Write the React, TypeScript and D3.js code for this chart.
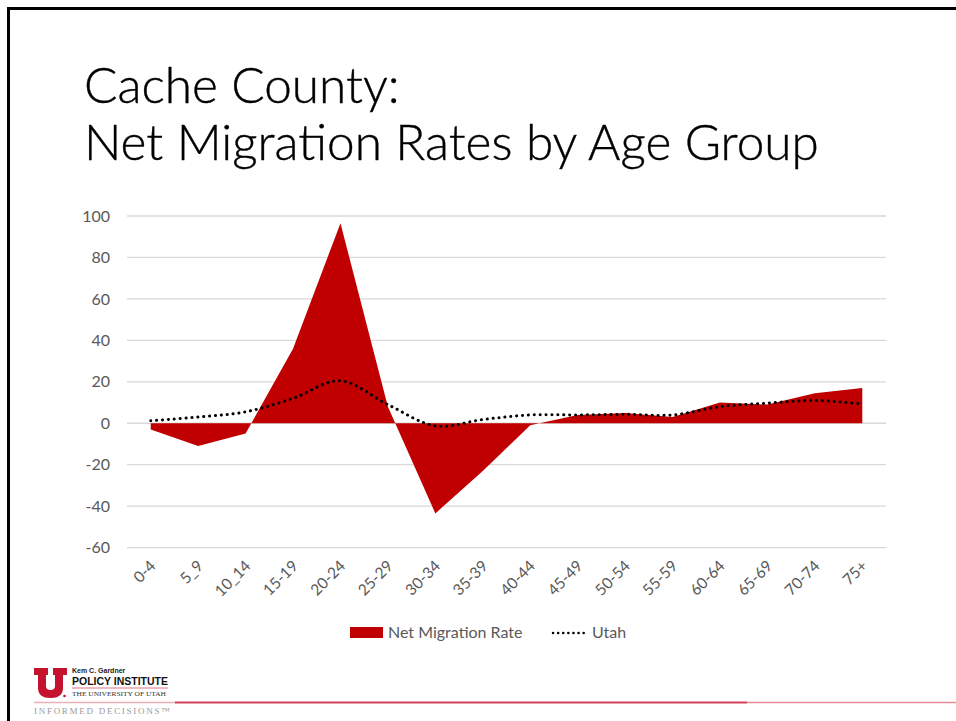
import React from "react";
import * as d3 from "d3";

const categories = ["0-4","5_9","10_14","15-19","20-24","25-29","30-34","35-39","40-44","45-49","50-54","55-59","60-64","65-69","70-74","75+"];
const netMigration = [-3,-11,-5,36,96.5,8,-43.5,-23,-1,4,5,3,10,9,14.5,17];
const utah = [1.2,3,5.5,12,20.5,9,-1.3,1.8,4,4,4.3,4,8,9.7,11,9.3];
const yTicks = [-60,-40,-20,0,20,40,60,80,100];

const W = 956, H = 721;
const plot = { left: 127, right: 886, top: 216, bottom: 547.6 };
const FONT = "Lato, 'Open Sans', sans-serif";
const GRAY = "#595959";
const RED = "#C00000";

export default function App() {
  const x = d3.scaleBand<string>().domain(categories).range([plot.left, plot.right]);
  const cx = (c: string) => (x(c) as number) + x.bandwidth() / 2;
  const y = d3.scaleLinear().domain([-60, 100]).range([plot.bottom, plot.top]);

  const area = d3.area<number>()
    .x((_, i) => cx(categories[i]))
    .y0(y(0))
    .y1((d) => y(d));
  const line = d3.line<number>()
    .x((_, i) => cx(categories[i]))
    .y((d) => y(d))
    .curve(d3.curveCardinal.tension(0));

  return (
    <svg width={W} height={H} style={{ position: "absolute", left: 0, top: 0, background: "#fff" }}>
      <rect x={0} y={0} width={W} height={H} fill="#fff" />
      <rect x={8.5} y={8.5} width={W + 20} height={H + 20} fill="none" stroke="#000" strokeWidth={3} />
      <text x={84} y={103} fontFamily={FONT} fontWeight={300} fontSize={49.5} fill="#000" stroke="#000" strokeWidth={0.4}>Cache County:</text>
      <text x={84} y={160} fontFamily={FONT} fontWeight={300} fontSize={49.5} fill="#000" stroke="#000" strokeWidth={0.4}>Net Migration Rates by Age Group</text>

      {yTicks.map((t) => (
        <g key={t}>
          <line x1={plot.left} x2={plot.right} y1={y(t)} y2={y(t)} stroke="#d9d9d9" strokeWidth={1.3} />
          <text x={110} y={y(t)} dy="0.35em" textAnchor="end" fontFamily={FONT} fontSize={16} fill={GRAY}>{t}</text>
        </g>
      ))}

      <path d={area(netMigration) || ""} fill={RED} />
      <path d={line(utah) || ""} fill="none" stroke="#000" strokeWidth={3} strokeLinecap="round" strokeDasharray="0.1 5.8" />

      {categories.map((c) => (
        <text key={c} transform={`translate(${cx(c) + 6},${567}) rotate(-45)`} textAnchor="end" fontFamily={FONT} fontSize={15.5} fill={GRAY}>{c}</text>
      ))}

      <rect x={350} y={627} width={33} height={11} fill={RED} />
      <text x={388} y={638} fontFamily={FONT} fontSize={16} fill={GRAY}>Net Migration Rate</text>
      <line x1={553} x2={584} y1={633} y2={633} stroke="#000" strokeWidth={2.5} strokeLinecap="round" strokeDasharray="0.1 5" />
      <text x={592} y={638} fontFamily={FONT} fontSize={16} fill={GRAY}>Utah</text>

      <path d="M34,668 H48 V675 H46 V686 Q46,690 50.5,690 Q55,690 55,686 V675 H53 V668 H67 V675 H63 V688 Q63,698 50.5,698 Q38,698 38,688 V675 H34 Z" fill="#c4122f" />
      <circle cx={64.5} cy={696} r={1.3} fill="#c4122f" />
      <text x={72} y={673} fontFamily="'Liberation Sans', sans-serif" fontWeight={700} fontSize={7} fill="#222">Kem C. Gardner</text>
      <text x={72} y={684.5} fontFamily="'Liberation Sans Narrow', 'Liberation Sans', sans-serif" fontWeight={700} fontSize={11.5} fill="#111" textLength={96} lengthAdjust="spacingAndGlyphs">POLICY INSTITUTE</text>
      <line x1={72} x2={168} y1={688} y2={688} stroke="#e07080" strokeWidth={1} />
      <text x={72} y={696} fontFamily="'Liberation Serif', serif" fontSize={7} fill="#333" textLength={94} lengthAdjust="spacingAndGlyphs">THE UNIVERSITY OF UTAH</text>
      <line x1={34} x2={175} y1={702.5} y2={702.5} stroke="#eab0b8" strokeWidth={1.5} />
      <line x1={175} x2={747} y1={702.5} y2={702.5} stroke="#d04058" strokeWidth={1.8} />
      <line x1={747} x2={956} y1={702.5} y2={702.5} stroke="#e48a98" strokeWidth={1.5} />
      <text x={34} y={714} fontFamily="'Liberation Serif', serif" fontSize={9} fill="#9a9a9a" textLength={136} lengthAdjust="spacing">INFORMED DECISIONS™</text>
    </svg>
  );
}
